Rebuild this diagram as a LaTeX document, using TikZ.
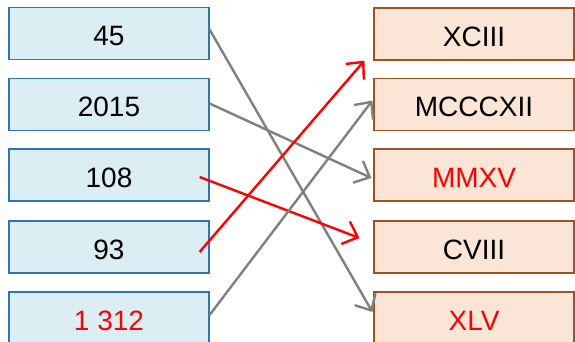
\documentclass[tikz,border=0pt]{standalone}
\usepackage{fontspec}
\setmainfont{Liberation Sans}
\usetikzlibrary{arrows.meta}
\definecolor{lfill}{RGB}{219,238,244}
\definecolor{ldraw}{RGB}{46,117,182}
\definecolor{rfill}{RGB}{251,229,214}
\definecolor{rdraw}{RGB}{160,82,30}
\definecolor{agray}{RGB}{128,128,128}
\definecolor{tred}{RGB}{255,0,0}
\tikzset{
  boxbase/.style={line width=1.2pt, minimum width=200pt, minimum height=52pt, inner sep=0pt, text height=25pt, text depth=0pt, font=\fontsize{28}{32}\selectfont},
  lbox/.style={boxbase, draw=ldraw, fill=lfill},
  rbox/.style={boxbase, draw=rdraw, fill=rfill},
  garrow/.style={draw=agray, line width=2.4pt, -{Straight Barb[length=13pt,width=24pt,line width=2.4pt]}},
  rarrow/.style={draw=tred, line width=2.4pt, -{Straight Barb[length=13pt,width=24pt,line width=2.4pt]}}
}
\begin{document}
\begin{tikzpicture}[x=1pt,y=-1pt]
\useasboundingbox (0,0) rectangle (575,342);
\node[lbox] (l1) at (109,33.5) {45};
\node[lbox] (l2) at (109,104.5) {2015};
\node[lbox] (l3) at (109,175) {108};
\node[lbox] (l4) at (109,247) {93};
\node[lbox] (l5) at (109,318) {\textcolor{tred}{1 312}};
\node[rbox] (r1) at (474,34) {XCIII};
\node[rbox] (r2) at (474,104.5) {MCCCXII};
\node[rbox] (r3) at (474,175) {\textcolor{tred}{MMXV}};
\node[rbox] (r4) at (474,247) {CVIII};
\node[rbox] (r5) at (474,318) {\textcolor{tred}{XLV}};
\draw[garrow] ([yshift=4pt]l1.east) -- ([xshift=-1pt,yshift=6pt]r5.west);
\draw[garrow] ([yshift=1pt]l2.east) -- ([xshift=-2pt,yshift=-3pt]r3.west);
\draw[rarrow] ([xshift=-10pt,yshift=-2pt]l3.east) -- ([xshift=-14pt,yshift=9pt]r4.west);
\draw[rarrow] ([xshift=-10pt,yshift=-5pt]l4.east) -- ([xshift=-9pt,yshift=0pt]r1.south west);
\draw[garrow] ([yshift=3pt]l5.east) -- ([xshift=-1pt,yshift=4pt]r2.west);
\end{tikzpicture}
\end{document}
